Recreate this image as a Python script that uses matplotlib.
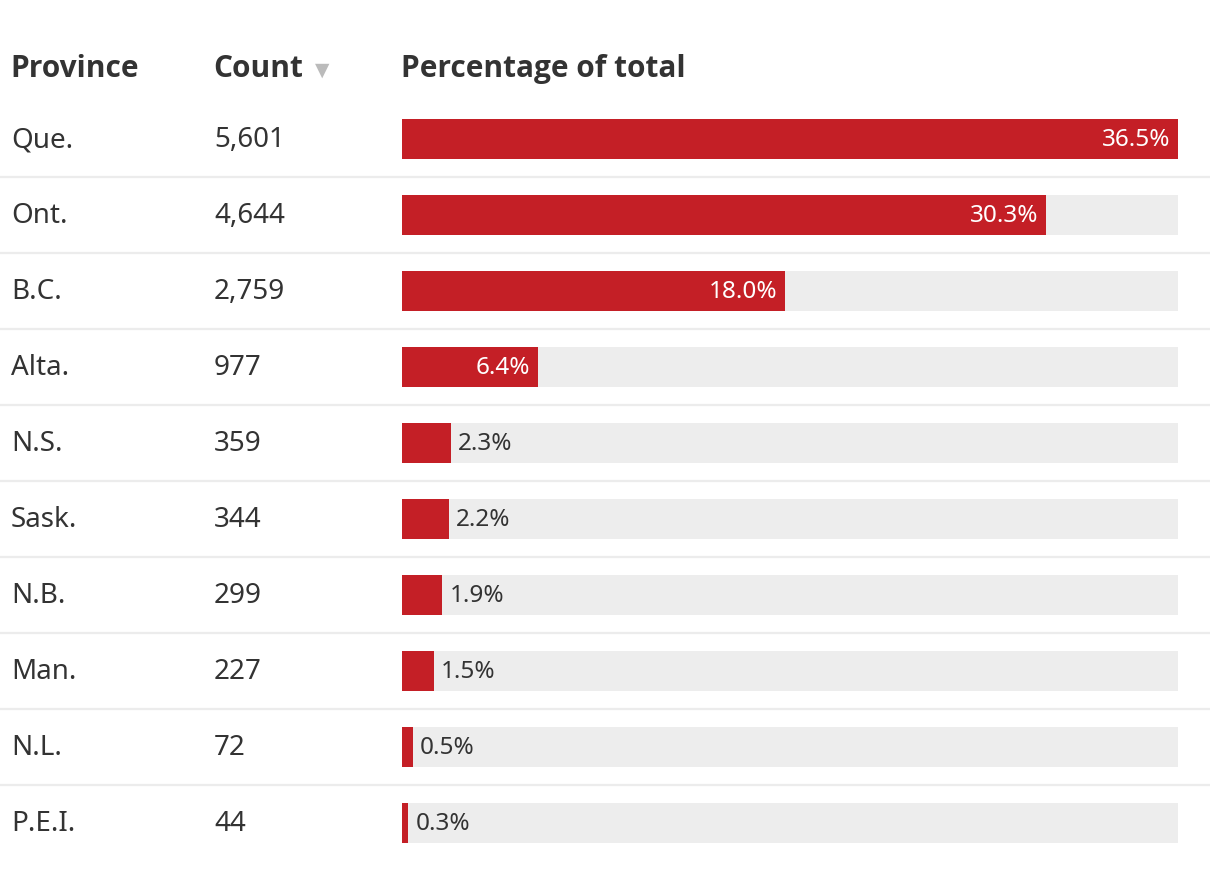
import matplotlib
matplotlib.use("Agg")
import matplotlib.pyplot as plt

provinces = ["Que.", "Ont.", "B.C.", "Alta.", "N.S.", "Sask.", "N.B.", "Man.", "N.L.", "P.E.I."]
counts = ["5,601", "4,644", "2,759", "977", "359", "344", "299", "227", "72", "44"]
percents = [36.5, 30.3, 18.0, 6.4, 2.3, 2.2, 1.9, 1.5, 0.5, 0.3]
headers = ["Province", "Count", "Percentage of total"]

RED = "#c41f26"
BG = "#ededed"
TXT = "#333333"
FONT = "Noto Sans"
HFONT = "Open Sans"

W, H = 1220, 870
fig = plt.figure(figsize=(W / 100, H / 100), dpi=100)

# full-figure axes in pixel coordinates for table text and rules
ax = fig.add_axes([0, 0, 1, 1])
ax.set_xlim(0, W)
ax.set_ylim(H, 0)
ax.axis("off")

row0, step = 140, 76
ys = [row0 + step * i for i in range(len(provinces))]

HFS = 21.5
ax.text(10, 69, headers[0], fontsize=HFS, fontweight="bold", color=TXT,
        family=HFONT, va="center", ha="left")
ax.text(213, 69, headers[1], fontsize=HFS, fontweight="bold", color=TXT,
        family=HFONT, va="center", ha="left")
ax.text(315, 70, "\u25bc", fontsize=13.5, color="#bbbbbb", family="DejaVu Sans",
        va="center", ha="left")
ax.text(401, 69, headers[2], fontsize=HFS, fontweight="bold", color=TXT,
        family=HFONT, va="center", ha="left")

for y, p, c in zip(ys, provinces, counts):
    ax.text(11, y, p, fontsize=20, color=TXT, family=FONT, va="center", ha="left")
    ax.text(214, y, c, fontsize=20, color=TXT, family=FONT, va="center", ha="left")

for y in ys[:-1]:
    ax.plot([0, 1210], [y + 38, y + 38], color="#ececec", lw=1.6,
            solid_capstyle="butt")

# bar axes: x in percent, y in pixels
maxp = max(percents)
bx = fig.add_axes([402 / W, 0, 776 / W, 1])
bx.set_xlim(0, maxp)
bx.set_ylim(H, 0)
bx.axis("off")
bx.barh(ys, [maxp] * len(ys), height=40, color=BG, left=0)
bx.barh(ys, percents, height=40, color=RED, left=0)
for y, v in zip(ys, percents):
    lab = f"{v:.1f}%"
    if v > 5:
        bx.annotate(lab, (v, y), xytext=(-5.5, 0), textcoords="offset points",
                    ha="right", va="center", color="white", fontsize=17.5,
                    family=FONT)
    else:
        bx.annotate(lab, (v, y), xytext=(5, 0), textcoords="offset points",
                    ha="left", va="center", color=TXT, fontsize=17.5,
                    family=FONT)

fig.savefig("out.png", dpi=100, facecolor="white")
